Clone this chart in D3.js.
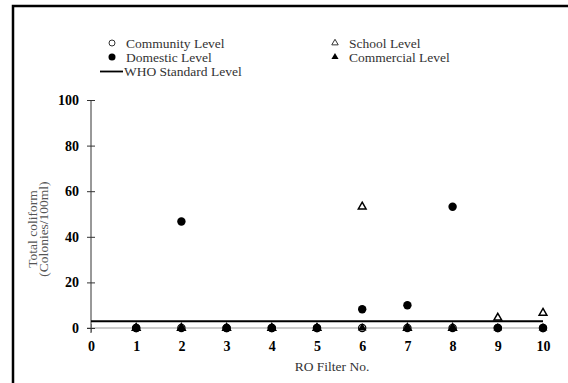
<!DOCTYPE html>
<html>
<head>
<meta charset="utf-8">
<script src="https://cdn.jsdelivr.net/npm/d3@7"></script>
<style>
  body { margin: 0; background: #fff; }
  svg { display: block; }
  svg text { font-family: "Liberation Serif", "Times New Roman", Tinos, Times, serif; }
</style>
</head>
<body>
<svg width="568" height="383"></svg>
<script>
'use strict';

const filters = [1, 2, 3, 4, 5, 6, 7, 8, 9, 10];
const community = [0, 0, 0, 0, 0, 0, 0, 0, 0, 0];
const school = [0, 0, 0, 0, 0, 53.2, 0, 0, 4.5, 6.6];
const domestic = [0, 46.7, 0, 0, 0, 8.2, 10, 53.2, 0, 0];
const commercial = [0, 0, 0, 0, 0, 0, 0, 0, 0, 0];
const whoLevel = 3;
const xTicks = [0, 1, 2, 3, 4, 5, 6, 7, 8, 9, 10];
const yTicks = [0, 20, 40, 60, 80, 100];

const svg = d3.select("svg");

const x = d3.scaleLinear().domain([0, 10]).range([91, 543]);
const y = d3.scaleLinear().domain([0, 100]).range([328, 100]);

// frame (left + top only, the rest is cut off)
svg.append("path")
  .attr("d", "M13,383V6H568")
  .attr("fill", "none")
  .attr("stroke", "#000")
  .attr("stroke-width", 2.5);

// x axis (grey line at zero)
const xAxis = svg.append("g")
  .attr("transform", `translate(0,${y(0)})`)
  .call(d3.axisBottom(x).tickValues(xTicks).tickSize(4).tickSizeOuter(0).tickPadding(9));
xAxis.attr("font-family", null);
xAxis.select(".domain").attr("stroke", "#999").attr("d", `M87,0H${x(10)}`);
xAxis.selectAll(".tick line").attr("y1", -4).attr("stroke", "#999");
xAxis.selectAll(".tick text")
  .attr("font-weight", "bold")
  .attr("font-size", 14)
  .attr("fill", "#000");

// y axis
const yAxis = svg.append("g")
  .attr("transform", `translate(${x(0)},0)`)
  .call(d3.axisLeft(y).tickValues(yTicks).tickSize(4).tickSizeOuter(0).tickPadding(8));
yAxis.attr("font-family", null);
yAxis.select(".domain").attr("stroke", "#333").attr("d", `M0,${y(100)}V${y(0) + 5}`);
yAxis.selectAll(".tick line").attr("x1", 4).attr("stroke", "#333");
yAxis.selectAll(".tick text")
  .attr("font-weight", "bold")
  .attr("font-size", 14)
  .attr("fill", "#000");

// axis titles
svg.append("text")
  .attr("x", 332).attr("y", 371)
  .attr("text-anchor", "middle")
  .attr("font-size", 13.5)
  .attr("fill", "#333")
  .text("RO Filter No.");

const yTitle = svg.append("text")
  .attr("transform", "translate(37,229) rotate(-90)")
  .attr("text-anchor", "middle")
  .attr("font-size", 13.5)
  .attr("fill", "#555");
yTitle.append("tspan").attr("x", 0).attr("dy", "0em").text("Total coliform");
yTitle.append("tspan").attr("x", 0).attr("dy", "0.85em").text("(Colonies/100ml)");

// WHO standard line
svg.append("line")
  .attr("x1", x(0)).attr("x2", x(10))
  .attr("y1", y(whoLevel)).attr("y2", y(whoLevel))
  .attr("stroke", "#000")
  .attr("stroke-width", 2);

const tri = d3.symbol().type(d3.symbolTriangle);

function drawCircles(values, filled) {
  svg.append("g").selectAll("circle")
    .data(values)
    .join("circle")
    .attr("cx", (d, i) => x(filters[i]))
    .attr("cy", d => y(d))
    .attr("r", filled ? 4.2 : 3.6)
    .attr("fill", filled ? "#000" : "#fff")
    .attr("stroke", "#000")
    .attr("stroke-width", filled ? 0 : 1.2);
}

function drawTriangles(values, filled) {
  svg.append("g").selectAll("path")
    .data(values)
    .join("path")
    .attr("d", tri.size(filled ? 34 : 26))
    .attr("transform", (d, i) => `translate(${x(filters[i])},${y(d)})`)
    .attr("fill", filled ? "#000" : "#fff")
    .attr("stroke", "#000")
    .attr("stroke-width", filled ? 0 : 1.5);
}

drawCircles(community, false);
drawTriangles(school, false);
drawCircles(domestic, true);
drawTriangles(commercial, true);

// legend
const legend = svg.append("g").attr("font-size", 13.5).attr("fill", "#333");
const legendRows = [
  {label: "Community Level", kind: "openCircle", lx: 112, ly: 43},
  {label: "Domestic Level", kind: "dot", lx: 112, ly: 57},
  {label: "WHO Standard Level", kind: "line", lx: 112, ly: 71.5},
  {label: "School Level", kind: "openTri", lx: 335, ly: 43},
  {label: "Commercial Level", kind: "tri", lx: 335, ly: 57}
];
legendRows.forEach(r => {
  const g = legend.append("g").attr("transform", `translate(${r.lx},${r.ly})`);
  if (r.kind === "openCircle") {
    g.append("circle").attr("r", 3).attr("fill", "#fff").attr("stroke", "#333").attr("stroke-width", 1);
  } else if (r.kind === "dot") {
    g.append("circle").attr("r", 3.5).attr("fill", "#000");
  } else if (r.kind === "line") {
    g.append("line").attr("x1", -12).attr("x2", 11).attr("stroke", "#000").attr("stroke-width", 1.8);
  } else if (r.kind === "openTri") {
    g.append("path").attr("d", tri.size(18)).attr("fill", "#fff").attr("stroke", "#333").attr("stroke-width", 1);
  } else {
    g.append("path").attr("d", tri.size(22)).attr("fill", "#000");
  }
  g.append("text")
    .attr("x", r.kind === "line" ? 12 : 14)
    .attr("y", 4.5)
    .text(r.label);
});
</script>
</body>
</html>
